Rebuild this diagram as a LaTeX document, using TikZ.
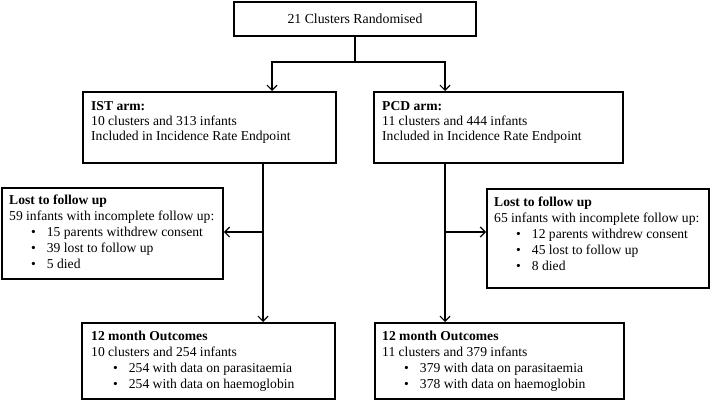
\documentclass[tikz,border=0pt]{standalone}
\usepackage{fontspec}
\setmainfont{Liberation Serif}
\usetikzlibrary{positioning,arrows.meta}

\tikzset{
  box/.style={draw, line width=1.8pt, inner sep=0pt},
  txt/.style={anchor=north west, inner sep=0pt, align=left, font=\fontsize{13.6}{16}\selectfont},
  link/.style={line width=1.2pt},
  flow/.style={line width=1.2pt, -{Straight Barb[length=5pt,width=10pt]}}
}
\newcommand{\bul}[1]{\hspace*{22pt}\textbullet\hspace{11pt}#1}

\begin{document}
\begin{tikzpicture}[x=1pt, y=-1pt]
  \useasboundingbox (0,0) rectangle (712,401);

  % boxes
  \node[box, minimum width=242pt, minimum height=34pt, font=\fontsize{13.8}{16}\selectfont] (rand) at (355,19) {21 Clusters Randomised};
  \node[box, anchor=north west, minimum width=253pt, minimum height=71pt] (ist) at (82,91) {};
  \node[box, anchor=north west, minimum width=249pt, minimum height=71pt] (pcd) at (373,91) {};
  \node[box, anchor=north west, minimum width=221pt, minimum height=91pt] (lostL) at (1,187) {};
  \node[box, anchor=north west, minimum width=222pt, minimum height=99pt] (lostR) at (486,188) {};
  \node[box, anchor=north west, minimum width=253pt, minimum height=76pt] (outL) at (81,322) {};
  \node[box, anchor=north west, minimum width=249pt, minimum height=76pt] (outR) at (374,322) {};

  % texts
  \node[txt, font=\fontsize{13.6}{15}\selectfont] (istT) at (91,101) {\textbf{IST arm:}\\10 clusters and 313 infants\\Included in Incidence Rate Endpoint};
  \node[txt, font=\fontsize{13.6}{15}\selectfont] (pcdT) at (382,101) {\textbf{PCD arm:}\\11 clusters and 444 infants\\Included in Incidence Rate Endpoint};
  \node[txt] (lostLT) at (9,195) {\textbf{Lost to follow up}\\59 infants with incomplete follow up:\\
    \bul{15 parents withdrew consent}\\\bul{39 lost to follow up}\\\bul{5 died}};
  \node[txt] (lostRT) at (494,197) {\textbf{Lost to follow up}\\65 infants with incomplete follow up:\\
    \bul{12 parents withdrew consent}\\\bul{45 lost to follow up}\\\bul{8 died}};
  \node[txt] (outLT) at (91,331) {\textbf{12 month Outcomes}\\10 clusters and 254 infants\\
    \bul{254 with data on parasitaemia}\\\bul{254 with data on haemoglobin}};
  \node[txt] (outRT) at (382,331) {\textbf{12 month Outcomes}\\11 clusters and 379 infants\\
    \bul{379 with data on parasitaemia}\\\bul{378 with data on haemoglobin}};

  % connectors
  \coordinate (split) at (355,62);
  \coordinate (istIn) at (272,62);
  \coordinate (pcdIn) at (445,62);
  \coordinate (istOut) at (263,232);
  \coordinate (pcdOut) at (445,232);

  \draw[link] (rand.south) -- (split);
  \draw[flow] (split) -- (istIn) -- (istIn |- ist.north);
  \draw[flow] (split) -- (pcdIn) -- (pcdIn |- pcd.north);
  \draw[flow] (istOut |- ist.south) -- (istOut |- outL.north);
  \draw[flow] (pcdOut |- pcd.south) -- (pcdOut |- outR.north);
  \draw[flow] (istOut) -- (istOut -| lostL.east);
  \draw[flow] (pcdOut) -- (pcdOut -| lostR.west);
\end{tikzpicture}
\end{document}
